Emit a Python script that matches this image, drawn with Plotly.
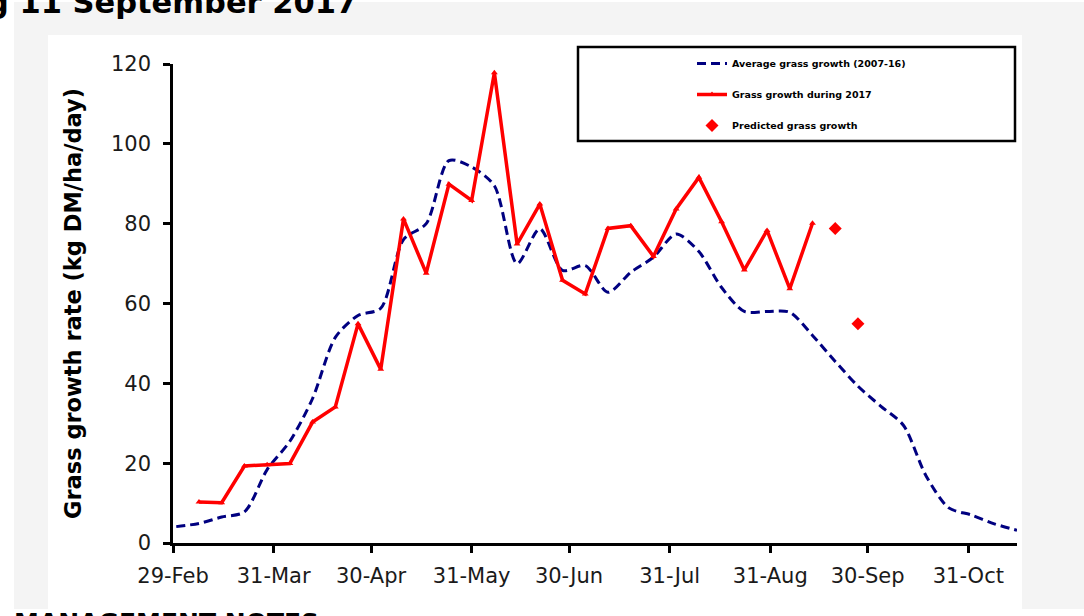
import plotly.graph_objects as go

# ---------------- data ----------------
avg_dates = ["2016-03-01", "2016-03-08", "2016-03-15", "2016-03-22", "2016-03-29",
             "2016-04-05", "2016-04-12", "2016-04-19", "2016-04-26",
             "2016-05-03", "2016-05-10", "2016-05-17", "2016-05-24", "2016-05-31",
             "2016-06-07", "2016-06-14", "2016-06-21", "2016-06-28",
             "2016-07-05", "2016-07-12", "2016-07-19", "2016-07-26",
             "2016-08-02", "2016-08-09", "2016-08-16", "2016-08-23", "2016-08-30",
             "2016-09-06", "2016-09-13", "2016-09-20", "2016-09-27",
             "2016-10-04", "2016-10-11", "2016-10-18", "2016-10-25",
             "2016-11-01", "2016-11-08", "2016-11-15"]
avg_growth = [4.1, 4.9, 6.5, 7.8, 18.4, 25.5, 36.2, 51.5, 57.0, 58.8, 76.0, 80.0,
              95.8, 94.2, 89.5, 70.0, 78.7, 68.3, 69.5, 62.8, 67.8, 71.6, 77.4,
              73.0, 64.0, 58.0, 58.0, 57.8, 52.0, 45.5, 39.3, 34.3, 29.5, 16.8,
              8.8, 7.0, 4.8, 3.2]

growth_dates = ["2016-03-08", "2016-03-15", "2016-03-22", "2016-03-29",
                "2016-04-05", "2016-04-12", "2016-04-19", "2016-04-26",
                "2016-05-03", "2016-05-10", "2016-05-17", "2016-05-24", "2016-05-31",
                "2016-06-07", "2016-06-14", "2016-06-21", "2016-06-28",
                "2016-07-05", "2016-07-12", "2016-07-19", "2016-07-26",
                "2016-08-02", "2016-08-09", "2016-08-16", "2016-08-23", "2016-08-30",
                "2016-09-06", "2016-09-13"]
growth_2017 = [10.3, 10.1, 19.3, 19.6, 19.9, 30.3, 34.1, 54.9, 43.5, 81.2, 67.6,
               89.9, 85.8, 117.8, 74.9, 84.9, 65.8, 62.4, 78.8, 79.5, 71.8, 83.7,
               91.6, 80.5, 68.4, 78.3, 63.7, 80.1]

pred_dates = ["2016-09-20", "2016-09-27"]
pred_growth = [78.8, 54.9]

tick_dates = ["2016-02-29", "2016-03-31", "2016-04-30", "2016-05-31", "2016-06-30",
              "2016-07-31", "2016-08-31", "2016-09-30", "2016-10-31"]
tick_labels = ["29-Feb", "31-Mar", "30-Apr", "31-May", "30-Jun",
               "31-Jul", "31-Aug", "30-Sep", "31-Oct"]
y_ticks = [0, 20, 40, 60, 80, 100, 120]

# ---------------- layout helpers ----------------
W, H = 1084, 616
ML, MR, MT, MB = 173, 67, 64, 73
PW, PH = W - ML - MR, H - MT - MB


def px(x):
    return (x - ML) / PW


def py(y):
    return (H - MB - y) / PH


FONT = "DejaVu Sans"

fig = go.Figure()

fig.add_trace(go.Scatter(
    x=avg_dates, y=avg_growth, mode="lines", name="Average grass growth (2007-16)",
    line=dict(color="#000080", width=3, dash="9px,5px", shape="spline", smoothing=0.8),
    legendgroup="a"))

fig.add_trace(go.Scatter(
    x=growth_dates, y=growth_2017, mode="lines+markers", name="Grass growth during 2017",
    line=dict(color="#ff0000", width=3.5),
    marker=dict(symbol="triangle-up", size=6, color="#ff0000"),
    legendgroup="b"))

fig.add_trace(go.Scatter(
    x=pred_dates, y=pred_growth, mode="markers", name="Predicted grass growth",
    marker=dict(symbol="diamond", size=10, color="#ff0000"),
    legendgroup="c"))

shapes = [
    dict(type="rect", xref="paper", yref="paper", x0=px(14), x1=px(1084), y0=py(609), y1=py(2),
         fillcolor="#f4f4f4", line=dict(width=0), layer="below"),
    dict(type="rect", xref="paper", yref="paper", x0=px(48), x1=px(1022), y0=py(609), y1=py(35),
         fillcolor="#ffffff", line=dict(width=0), layer="below"),
    dict(type="rect", xref="paper", yref="paper", x0=px(578), x1=px(1015), y0=py(141), y1=py(47),
         fillcolor="rgba(0,0,0,0)", line=dict(color="#000000", width=2.5), layer="above"),
]

annotations = [
    dict(text="<b>g 11 September 2017</b>", xref="paper", yref="paper",
         x=px(-15), y=py(-17), xanchor="left", yanchor="top", showarrow=False,
         font=dict(family=FONT, size=30.5, color="#000000")),
    dict(text="<b>MANAGEMENT NOTES</b>", xref="paper", yref="paper",
         x=px(12), y=py(606), xanchor="left", yanchor="top", showarrow=False,
         font=dict(family=FONT, size=25, color="#000000")),
]

fig.update_layout(
    width=W, height=H,
    margin=dict(l=ML, r=MR, t=MT, b=MB),
    paper_bgcolor="#ffffff", plot_bgcolor="rgba(0,0,0,0)",
    shapes=shapes, annotations=annotations,
    showlegend=True,
    legend=dict(x=px(692), y=py(49), xanchor="left", yanchor="top",
                bgcolor="rgba(0,0,0,0)", borderwidth=0,
                font=dict(family=FONT, size=9.5, color="#000000", weight="bold"),
                tracegroupgap=12, traceorder="grouped"),
    xaxis=dict(type="date", range=["2016-02-29", "2016-11-15"],
               tickvals=tick_dates, ticktext=tick_labels,
               showline=True, linecolor="#000000", linewidth=2.5,
               ticks="outside", ticklen=7, tickwidth=2.5, tickcolor="#000000",
               showgrid=False, zeroline=False, ticklabelstandoff=5,
               tickfont=dict(family=FONT, size=21, color="#1a1a1a")),
    yaxis=dict(range=[0, 120], tickvals=y_ticks,
               showline=True, linecolor="#000000", linewidth=2.5,
               ticks="outside", ticklen=7, tickwidth=2.5, tickcolor="#000000",
               showgrid=False, zeroline=False, ticklabelstandoff=8,
               tickfont=dict(family=FONT, size=21, color="#1a1a1a"),
               title=dict(text="<b>Grass growth rate (kg DM/ha/day)</b>", standoff=24,
                          font=dict(family=FONT, size=22.5, color="#000000"))),
)

fig.write_html("out.html", config={"displayModeBar": False},
               post_script="document.body.style.margin='0';")
